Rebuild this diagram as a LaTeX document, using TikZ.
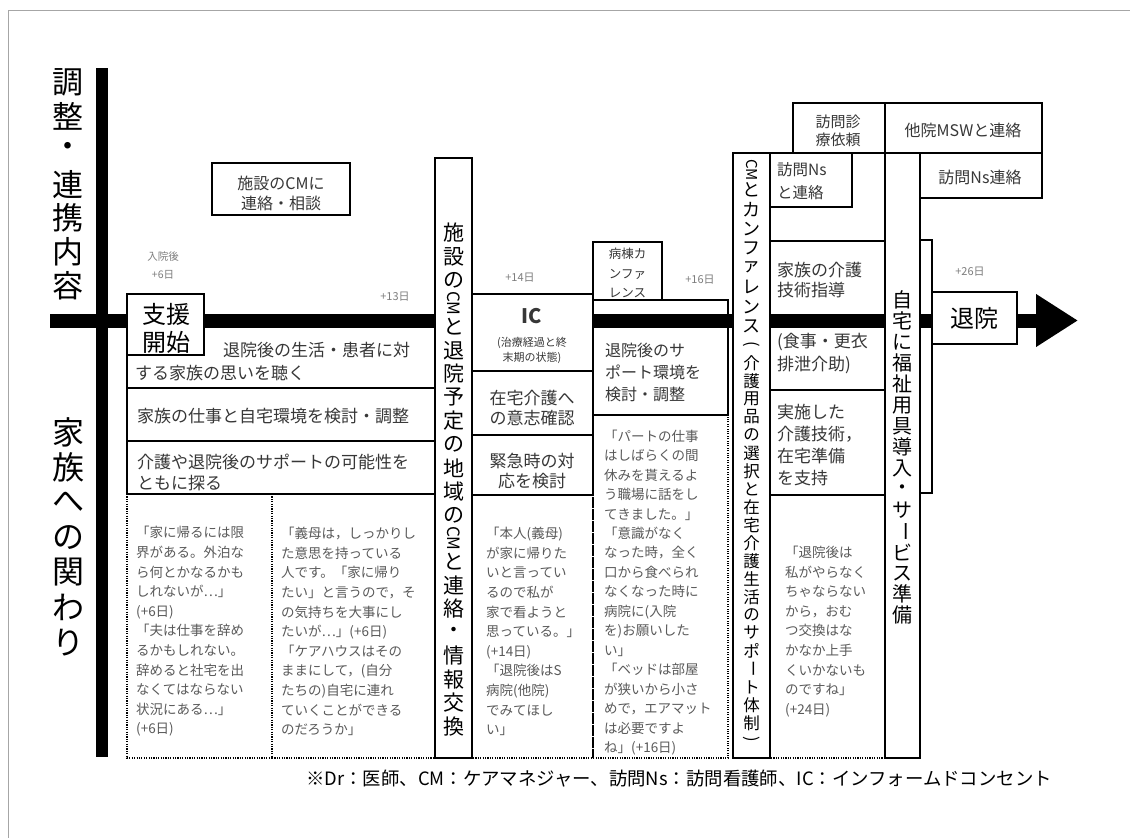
\documentclass[tikz,border=0pt]{standalone}
\usepackage{fontspec}
\setmainfont{Noto Sans CJK JP}
\usepackage{graphicx}
\usetikzlibrary{arrows.meta}
\definecolor{tc}{RGB}{55,55,55}
\definecolor{qc}{RGB}{90,90,90}
\definecolor{dc}{RGB}{125,125,125}
\newcommand\fsz[2]{\fontsize{#1}{#2}\selectfont}
\makeatletter
\newlength\vt@step
\def\vt@end{\vt@end@}
\newcommand\vtxt[2]{\setlength\vt@step{#1}\vbox{\offinterlineskip\vt@aux#2\vt@end}}
\def\vt@aux#1{\ifx\vt@end#1\else\hbox to 40pt{\hss\vbox to \vt@step{\vss\hbox{#1}\vss}\hss}\expandafter\vt@aux\fi}
\makeatother
\newcommand\vcho{\rotatebox[origin=c]{-90}{ー}}
\newcommand\vcm[1]{\rotatebox[origin=c]{-90}{#1}}
\tikzset{
  bx/.style={draw, line width=1.5pt},
  bxw/.style={draw, line width=1.5pt, fill=white},
  qb/.style={draw, line width=2pt, dash pattern=on 1.1pt off 1.3pt},
  txt/.style={inner sep=0pt, text=tc},
  lt/.style={txt, anchor=west, align=left},
  ct/.style={txt, align=center},
  qt/.style={font=\fsz{13.5}{19.6}, text=qc},
  day/.style={txt, text=dc, font=\fsz{11}{11}},
  vlab/.style={txt, anchor=north, text=black},
}
\begin{document}
\begin{tikzpicture}[x=1pt,y=-1pt]
\useasboundingbox (0,0) rectangle (1130,838);
\fill[white] (0,0) rectangle (1130,838);
\draw[gray!70, line width=0.8pt] (8,838) -- (8,10) -- (1130,10);

% quote boxes (dotted)
\draw[qb] (127,494) rectangle (272,758);
\draw[qb] (272,494) rectangle (435,758);
\draw[qb] (472,495) rectangle (593,758);
\draw[qb] (593,415) rectangle (728,758);
\draw[qb] (770,495) rectangle (885,758);

% open boxes crossed by the axis
\draw[bx] (127,320) rectangle (435,388);
\draw[bx] (127,388) rectangle (435,441);
\draw[bx] (127,441) rectangle (435,494);
\draw[bx] (593,300) rectangle (728,415);
\draw[bx] (770,153) rectangle (885,241);
\draw[bx] (770,241) rectangle (885,390);
\draw[bx] (770,390) rectangle (885,495);
\draw[bx] (920,240) rectangle (932,493);

% axes
\coordinate (vbT) at (101.5,68);
\coordinate (vbB) at (101.5,757);
\coordinate (axL) at (50,320.5);
\coordinate (axR) at (1078,320.5);
\draw[line width=12pt] (vbT) -- (vbB);
\draw[line width=14pt, -{Triangle[length=42pt,width=50pt]}] (axL) -- (axR);

% filled boxes
\draw[bxw] (127,294) rectangle (204,355);
\draw[bxw] (212,163) rectangle (350,215);
\draw[bxw] (435,158) rectangle (472,758);
\draw[bxw] (472,294) rectangle (593,371);
\draw[bxw] (472,371) rectangle (593,435);
\draw[bxw] (472,435) rectangle (593,495);
\draw[bxw] (593,242) rectangle (662,300);
\draw[bxw] (733,153) rectangle (770,758);
\draw[bxw] (793,103) rectangle (885,153);
\draw[bxw] (885,103) rectangle (1042,153);
\draw[bxw] (770,153) rectangle (852,207);
\draw[bxw] (920,153) rectangle (1042,198);
\draw[bxw] (885,153) rectangle (920,758);
\draw[bxw] (932,292) rectangle (1017,344);

% side labels
\node[vlab, font=\fsz{31}{31}] (lab1) at (68,65) {\vtxt{34pt}{調整・連携内容}};
\node[vlab, font=\fsz{32}{32}] (lab2) at (68,414.5) {\vtxt{35pt}{家族への関わり}};

% day labels
\node[ct, text=dc, font=\fsz{10.5}{18}] (d6) at (163,265) {入院後\\+6日};
\node[day] (d13) at (395,297) {+13日};
\node[day] (d14) at (520,278) {+14日};
\node[day] (d16) at (700,280) {+16日};
\node[day] (d26) at (970,272) {+26日};

% left block
\node[ct, font=\fsz{16}{20}] (cm1) at (281,193) {施設のCMに\\連絡・相談};
\node[ct, text=black, font=\fsz{24}{28}] (start) at (166,328) {支援\\開始};
\node[lt, font=\fsz{17}{23}] (r1) at (135,361.5) {\hspace*{88pt}退院後の生活・患者に対\\する家族の思いを聴く};
\node[lt, font=\fsz{17}{21}] (r2) at (137,416) {家族の仕事と自宅環境を検討・調整};
\node[lt, font=\fsz{17}{21}] (r3) at (137,472.5) {介護や退院後のサポートの可能性を\\ともに探る};
\node[lt, qt] (q1) at (136,631.5) {「家に帰るには限\\界がある。外泊な\\ら何とかなるかも\\しれないが…」\\(+6日)\\「夫は仕事を辞め\\るかもしれない。\\辞めると社宅を出\\なくてはならない\\状況にある…」\\(+6日)};
\node[lt, qt] (q2) at (281,631.5) {「義母は，しっかりし\\た意思を持っている\\人です。「家に帰り\\たい」と言うので，そ\\の気持ちを大事にし\\たいが…」(+6日)\\「ケアハウスはその\\ままにして，(自分\\たちの)自宅に連れ\\ていくことができる\\のだろうか」};

% vertical box 1
\node[vlab, font=\fsz{21}{21}] (v1) at (453.5,221) {\vtxt{23.5pt}{施設の{\vcm{\fsz{17}{17}CM}}と退院予定の地域の{\vcm{\fsz{17}{17}CM}}と連絡・情報交換}};

% column 3
\node[txt, font=\fsz{20}{20}\bfseries] (ic) at (532,316) {IC};
\node[ct, font=\fsz{11}{15}] (icsub) at (532,350.5) {(治療経過と終\\末期の状態)};
\node[ct, font=\fsz{17}{20}] (c3a) at (532,408) {在宅介護へ\\の意志確認};
\node[ct, font=\fsz{17}{20}] (c3b) at (532,471) {緊急時の対\\応を検討};
\node[lt, qt] (q3) at (486,631.5) {「本人(義母)\\が家に帰りた\\いと言ってい\\るので私が\\家で看ようと\\思っている。」\\(+14日)\\「退院後はS\\病院(他院)\\でみてほし\\い」};

% column 4
\node[ct, font=\fsz{12.5}{19.5}] (conf) at (627.5,273) {病棟カ\\ンファ\\レンス};
\node[lt, font=\fsz{16}{22}] (c4) at (605,372) {退院後のサ\\ポート環境を\\検討・調整};
\node[lt, qt, font=\fsz{13.5}{19.45}] (q4) at (604,592.5) {「パートの仕事\\はしばらくの間\\休みを貰えるよ\\う職場に話をし\\てきました。」\\「意識がなく\\なった時，全く\\口から食べられ\\なくなった時に\\病院に(入院\\を)お願いした\\い」\\「ベッドは部屋\\が狭いから小さ\\めで，エアマット\\は必要ですよ\\ね」(+16日)};

% vertical box 2
\node[vlab] (v2) at (751.5,160.25) {\vbox{\offinterlineskip\hbox{\fsz{18}{18}\vtxt{19.5pt}{{\vcm{\fsz{15}{15}CM}}とカンファレンス}}\hbox{\fsz{16.5}{16.5}\vtxt{18pt}{{\vcm{(}}介護用品の選択と在宅介護生活のサポ\vcho ト体制{\vcm{)}}}}}};

% column 5
\node[ct, font=\fsz{15}{18}] (hs) at (838,131) {訪問診\\療依頼};
\node[txt, font=\fsz{16}{16}] (msw) at (963,130) {他院MSWと連絡};
\node[txt, font=\fsz{16}{16}] (ns2) at (980,177) {訪問Ns連絡};
\node[lt, font=\fsz{15.5}{23}] (ns1) at (777,181.5) {訪問Ns\\と連絡};
\node[lt, font=\fsz{17}{20}] (k1) at (777,280) {家族の介護\\技術指導};
\node[lt, font=\fsz{17}{23}] (k2) at (777,353.5) {(食事・更衣\\排泄介助)};
\node[lt, font=\fsz{17}{22}] (k3) at (777,445) {実施した\\介護技術，\\在宅準備\\を支持};
\node[lt, qt] (q5) at (785,631.5) {「退院後は\\私がやらなく\\ちゃならない\\から，おむ\\つ交換はな\\かなか上手\\くいかないも\\のですね」\\(+24日)};

% vertical box 3
\node[vlab, font=\fsz{20}{20}] (v3) at (902.5,289.5) {\vtxt{21pt}{自宅に福祉用具導入・サ\vcho ビス準備}};

% discharge
\node[txt, text=black, font=\fsz{24}{24}] (out) at (974.5,318) {退院};

% footnote
\node[txt, anchor=west, text=black, font=\fsz{18.4}{18.4}] (foot) at (306,779) {※Dr：医師、CM：ケアマネジャー、訪問Ns：訪問看護師、IC：インフォームドコンセント};
\end{tikzpicture}
\end{document}
